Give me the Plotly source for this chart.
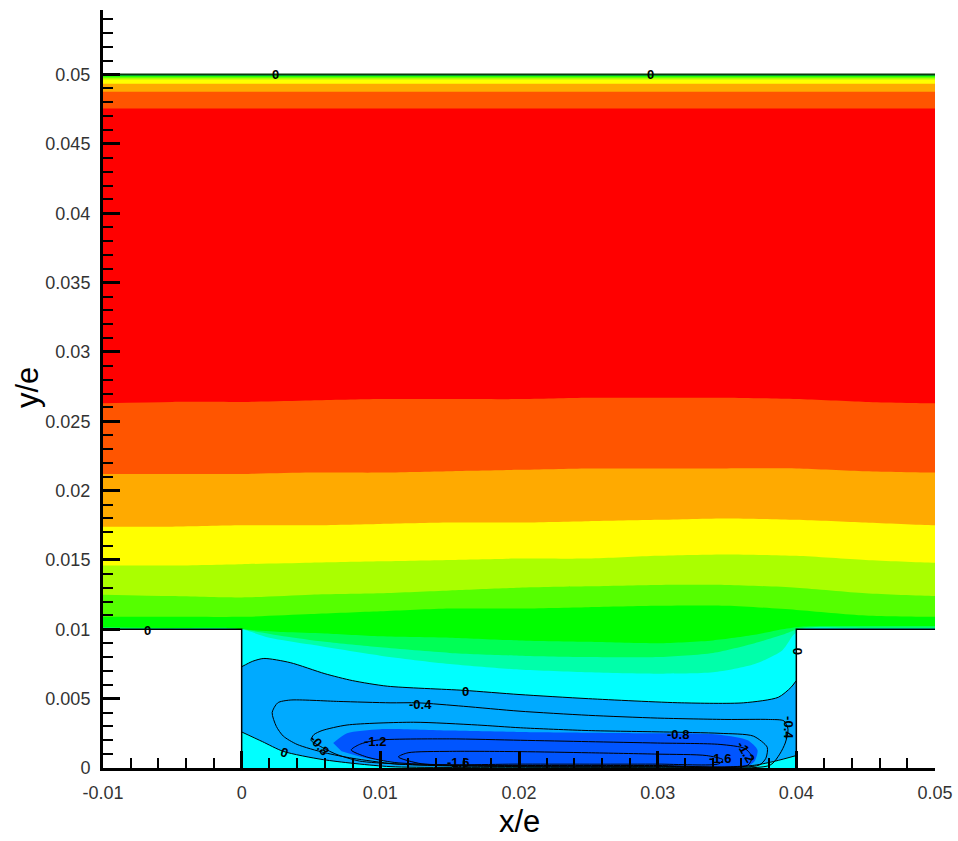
import plotly.graph_objects as go

# ---------------- axes / ticks ----------------
X_RANGE = [-0.01, 0.05]
Y_RANGE = [0.0, 0.05466]
X_TICKS = [-0.01, 0.0, 0.01, 0.02, 0.03, 0.04, 0.05]
X_TICK_TEXT = ["-0.01", "0", "0.01", "0.02", "0.03", "0.04", "0.05"]
Y_TICKS = [0.0, 0.005, 0.01, 0.015, 0.02, 0.025, 0.03, 0.035, 0.04, 0.045, 0.05]
Y_TICK_TEXT = ["0", "0.005", "0.01", "0.015", "0.02", "0.025", "0.03", "0.035", "0.04", "0.045", "0.05"]

# ---------------- geometry (x/e, y/e) ----------------
CHANNEL_X = [-0.01, 0.05]
CHANNEL_WALL_LOW = 0.01
CHANNEL_WALL_TOP = 0.05
CAVITY_X = [0.0, 0.04]
CAVITY_FLOOR = 0.0

# ---------------- flood bands (value below each level) ----------------
LEVELS = [9, 8, 7, 6, 5, 4, 3, 2, 1]
COLOR_ABOVE_TOP = "#ff0000"
BAND_COLORS = ["#ff5500", "#ffaa00", "#ffff00", "#aaff00", "#55ff00",
               "#00ff00", "#00ff55", "#00ffaa", "#00ffff"]
COLOR_BELOW_0 = "#00aaff"
COLOR_BELOW_M1 = "#0055ff"

# lower boundary-layer level crossings
XB = [-0.01, -0.005, 0.0, 0.005, 0.01, 0.015, 0.02, 0.025, 0.03, 0.035, 0.04, 0.045, 0.05]
L9_Y = [0.0263, 0.0264, 0.0264, 0.0265, 0.0266, 0.0266, 0.0266, 0.0267, 0.0267, 0.0267, 0.0266, 0.0264, 0.0263]
L8_Y = [0.0212, 0.0212, 0.0212, 0.0213, 0.0213, 0.0214, 0.0215, 0.0216, 0.0216, 0.0216, 0.0216, 0.0214, 0.0213]
L7_Y = [0.0174, 0.0174, 0.0175, 0.0175, 0.0176, 0.0177, 0.0177, 0.0178, 0.0179, 0.0180, 0.0179, 0.0177, 0.0175]
L6_Y = [0.0146, 0.0146, 0.0147, 0.0148, 0.0149, 0.0150, 0.0151, 0.0151, 0.0153, 0.0154, 0.0153, 0.0150, 0.0148]
L5_Y = [0.0125, 0.0124, 0.0123, 0.0125, 0.0126, 0.0128, 0.0130, 0.0131, 0.0132, 0.0132, 0.0130, 0.0126, 0.0124]
L4_Y = [0.0109, 0.0109, 0.0109, 0.0111, 0.0113, 0.0115, 0.0115, 0.0116, 0.0117, 0.0117, 0.0114, 0.0110, 0.0109]

L3_X = [-0.01, -0.005, -0.001, 0.0, 0.003, 0.006, 0.01, 0.015, 0.02, 0.025, 0.03, 0.034, 0.037, 0.039, 0.0405, 0.045, 0.05]
L3_Y = [0.01017, 0.0101, 0.0101, 0.0100, 0.0098, 0.0097, 0.0095, 0.0094, 0.0092, 0.0091, 0.0090, 0.0092, 0.0096, 0.0100, 0.0102, 0.01024, 0.01024]
L2_X = [-0.01, -0.005, -0.001, 0.0, 0.003, 0.006, 0.01, 0.015, 0.02, 0.025, 0.03, 0.034, 0.037, 0.039, 0.0403, 0.045, 0.05]
L2_Y = [0.01008, 0.01008, 0.01007, 0.0100, 0.0095, 0.0091, 0.0087, 0.0083, 0.0081, 0.0080, 0.0080, 0.0083, 0.0090, 0.0096, 0.01008, 0.01012, 0.01012]
L1_X = [-0.01, -0.005, -0.001, 0.0, 0.002, 0.005, 0.01, 0.015, 0.02, 0.025, 0.03, 0.034, 0.037, 0.039, 0.0398, 0.0405, 0.045, 0.05]
L1_Y = [0.01003, 0.01003, 0.01003, 0.0100, 0.0094, 0.0089, 0.0081, 0.0075, 0.0071, 0.0069, 0.0068, 0.0069, 0.0075, 0.0085, 0.0096, 0.01004, 0.01006, 0.01006]

# upper-wall boundary layer level crossings (uniform in x)
TOP_LEVEL_Y = [0.04755, 0.04877, 0.04935, 0.04964, 0.04978, 0.04986, 0.04992, 0.04996, 0.04999]

# ---------------- cavity recirculation ----------------
ZERO_TOP_X = [0.0, 0.0008, 0.0016, 0.0035, 0.006, 0.008, 0.0105, 0.016, 0.02, 0.025, 0.0317, 0.0362, 0.0387, 0.0396, 0.04]
ZERO_TOP_Y = [0.0073, 0.0077, 0.0079, 0.0076, 0.0068, 0.0063, 0.0059, 0.0056, 0.0053, 0.0050, 0.0047, 0.0047, 0.0051, 0.0058, 0.0063]
ZERO_BOT_X = [0.04, 0.0385, 0.037, 0.035, 0.03, 0.02, 0.0107, 0.0059, 0.003, 0.0015, 0.0]
ZERO_BOT_Y = [0.0009, 0.0005, 0.0002, 0.00008, 0.00005, 0.00005, 0.0001, 0.0006, 0.0012, 0.0019, 0.0026]

MB_X = [0.0066, 0.0076, 0.010, 0.015, 0.020, 0.025, 0.030, 0.0345, 0.0365, 0.0372, 0.0370, 0.0364, 0.030, 0.020, 0.012, 0.009, 0.0072]
MB_Y = [0.0018, 0.0025, 0.0028, 0.0027, 0.0026, 0.00255, 0.0025, 0.0024, 0.0020, 0.0013, 0.0005, 0.0001, 0.0001, 0.0001, 0.0003, 0.0007, 0.0012]

M04_X = [0.0025, 0.0022, 0.0026, 0.0035, 0.007, 0.0107, 0.0127, 0.016, 0.020, 0.025, 0.030, 0.035, 0.038, 0.0391, 0.0394, 0.0392, 0.0388, 0.0381, 0.030, 0.015, 0.011, 0.008, 0.006, 0.004, 0.003, 0.0025]
M04_Y = [0.0030, 0.0040, 0.0047, 0.0049, 0.0048, 0.0047, 0.0047, 0.00445, 0.0041, 0.0038, 0.0036, 0.0035, 0.0035, 0.0034, 0.0028, 0.0018, 0.0010, 0.0002, 0.00008, 0.00015, 0.0003, 0.0007, 0.0011, 0.0017, 0.0023, 0.0030]
M08_X = [0.0050, 0.0052, 0.0058, 0.0076, 0.0124, 0.017, 0.0201, 0.025, 0.0304, 0.0345, 0.0369, 0.0379, 0.0378, 0.0373, 0.030, 0.015, 0.011, 0.0085, 0.0068, 0.0056, 0.0050]
M08_Y = [0.0020, 0.0024, 0.0027, 0.0031, 0.0033, 0.0031, 0.0029, 0.0027, 0.0026, 0.0025, 0.0023, 0.0015, 0.0007, 0.0002, 0.00012, 0.00018, 0.0003, 0.0005, 0.0010, 0.0016, 0.0020]
M12_X = [0.0079, 0.0085, 0.0097, 0.015, 0.0201, 0.025, 0.030, 0.0345, 0.0363, 0.0368, 0.0365, 0.030, 0.015, 0.011, 0.009, 0.0079]
M12_Y = [0.0013, 0.0017, 0.0020, 0.0021, 0.0020, 0.0019, 0.0018, 0.0017, 0.0014, 0.0008, 0.0002, 0.00018, 0.00022, 0.0004, 0.0008, 0.0013]
M16_X = [0.0113, 0.012, 0.015, 0.0201, 0.025, 0.030, 0.0335, 0.0347, 0.0344, 0.030, 0.020, 0.013, 0.0113]
M16_Y = [0.0008, 0.0011, 0.0012, 0.00118, 0.0011, 0.0010, 0.0009, 0.0006, 0.0003, 0.00028, 0.00028, 0.0003, 0.0008]

# contour labels: text, x, y, angle
LABEL_TEXT = ["0", "0", "0", "0", "0", "-0.4", "-0.8", "0", "-1.2", "-1.6", "-0.8", "-1.6", "-1.2", "-0.4"]
LABEL_X = [0.00245, 0.0295, -0.00678, 0.0401, 0.01615, 0.0129, 0.00555, 0.0031, 0.0096, 0.0156, 0.03144, 0.0345, 0.03635, 0.03945]
LABEL_Y = [0.04998, 0.04998, 0.00995, 0.0084, 0.00555, 0.0046, 0.00166, 0.00115, 0.0019, 0.0004, 0.0024, 0.0007, 0.0012, 0.0029]
LABEL_ANGLE = [0, 0, 0, 90, 0, 0, 50, 20, 0, 0, 0, 0, 60, 90]

# ---------------- build figure ----------------
fig = go.Figure()
EXT = 0.003


def filled(xs, ys, color, shape="spline"):
    fig.add_trace(go.Scatter(x=xs, y=ys, mode="lines", fill="toself", fillcolor=color,
                             line=dict(width=0, shape=shape, smoothing=0.7, color=color),
                             hoverinfo="skip", showlegend=False))


def below(xs, ys, color):
    px = list(xs) + [xs[-1] + EXT, xs[-1] + EXT, xs[0] - EXT, xs[0] - EXT]
    py = list(ys) + [ys[-1], CAVITY_FLOOR - EXT, CAVITY_FLOOR - EXT, ys[0]]
    filled(px, py, color)


def above(y, color):
    x0, x1 = CHANNEL_X
    filled([x0 - EXT, x1 + EXT, x1 + EXT, x0 - EXT], [y, y, CHANNEL_WALL_TOP, CHANNEL_WALL_TOP], color, "linear")


def line(xs, ys, width=1.0, color="black", shape="spline"):
    fig.add_trace(go.Scatter(x=xs, y=ys, mode="lines",
                             line=dict(width=width, color=color, shape=shape, smoothing=0.7),
                             hoverinfo="skip", showlegend=False))


# whole domain in top colour
x0, x1 = CHANNEL_X
filled([x0 - EXT, x1 + EXT, x1 + EXT, x0 - EXT],
       [CAVITY_FLOOR - EXT, CAVITY_FLOOR - EXT, CHANNEL_WALL_TOP, CHANNEL_WALL_TOP], COLOR_ABOVE_TOP, "linear")

bottom_curves = [(XB, L9_Y), (XB, L8_Y), (XB, L7_Y), (XB, L6_Y), (XB, L5_Y), (XB, L4_Y),
                 (L3_X, L3_Y), (L2_X, L2_Y), (L1_X, L1_Y)]
for (bx, by), ty, col in zip(bottom_curves, TOP_LEVEL_Y, BAND_COLORS):
    below(bx, by, col)
    above(ty, col)

# recirculation (value < 0)
lb_x = [CAVITY_X[0] - 0.001] + ZERO_TOP_X + [CAVITY_X[1] + 0.001, CAVITY_X[1] + 0.001] + ZERO_BOT_X + [CAVITY_X[0] - 0.001]
lb_y = [ZERO_TOP_Y[0]] + ZERO_TOP_Y + [ZERO_TOP_Y[-1], ZERO_BOT_Y[0]] + ZERO_BOT_Y + [ZERO_BOT_Y[-1]]
filled(lb_x, lb_y, COLOR_BELOW_0)
filled(MB_X, MB_Y, COLOR_BELOW_M1)

# solid steps (white)
filled([x0 - EXT, CAVITY_X[0], CAVITY_X[0], x0 - EXT],
       [CAVITY_FLOOR - EXT, CAVITY_FLOOR - EXT, CHANNEL_WALL_LOW, CHANNEL_WALL_LOW], "white", "linear")
filled([CAVITY_X[1], x1 + EXT, x1 + EXT, CAVITY_X[1]],
       [CAVITY_FLOOR - EXT, CAVITY_FLOOR - EXT, CHANNEL_WALL_LOW, CHANNEL_WALL_LOW], "white", "linear")

# walls
line([x0, CAVITY_X[0], CAVITY_X[0]], [CHANNEL_WALL_LOW, CHANNEL_WALL_LOW, CAVITY_FLOOR], 1.5, shape="linear")
line([CAVITY_X[1], CAVITY_X[1], x1], [CAVITY_FLOOR, CHANNEL_WALL_LOW, CHANNEL_WALL_LOW], 1.5, shape="linear")
line([x0, x1], [CHANNEL_WALL_TOP, CHANNEL_WALL_TOP], 2.0, color="#0b3a0b", shape="linear")

# contour lines in cavity
line(ZERO_TOP_X, ZERO_TOP_Y)
line(ZERO_BOT_X, ZERO_BOT_Y)
for cx, cy in [(M04_X, M04_Y), (M08_X, M08_Y), (M12_X, M12_Y), (M16_X, M16_Y)]:
    line(cx, cy)

for t, lx, ly, ang in zip(LABEL_TEXT, LABEL_X, LABEL_Y, LABEL_ANGLE):
    fig.add_annotation(x=lx, y=ly, xref="x", yref="y", text="<b>%s</b>" % t, showarrow=False,
                       textangle=ang, font=dict(family="Liberation Sans, Arial", size=13, color="black"))

# axis titles
fig.add_annotation(x=0.5006, y=-0.071, xref="paper", yref="paper", text="x/e", showarrow=False,
                   font=dict(family="Liberation Sans, Arial", size=31, color="black"),
                   xanchor="center", yanchor="middle")
fig.add_annotation(x=-0.0913, y=0.5013, xref="paper", yref="paper", text="y/e", showarrow=False,
                   textangle=-90, font=dict(family="Liberation Sans, Arial", size=31, color="black"),
                   xanchor="center", yanchor="middle")

tickfont = dict(family="Liberation Sans, Arial", size=18, color="#333333")
fig.update_layout(
    width=958, height=841,
    margin=dict(l=103, r=23, t=10, b=73, autoexpand=False),
    paper_bgcolor="white", plot_bgcolor="white",
    showlegend=False,
    xaxis=dict(range=X_RANGE, tickmode="array", tickvals=X_TICKS, ticktext=X_TICK_TEXT,
               ticks="inside", ticklen=17, tickwidth=3, tickcolor="black",
               showline=True, linewidth=3, linecolor="black", showgrid=False, zeroline=False,
               tickfont=tickfont, ticklabelstandoff=6,
               minor=dict(ticks="inside", ticklen=10, tickwidth=2, tickcolor="black",
                          tickmode="linear", tick0=0, dtick=0.002, showgrid=False)),
    yaxis=dict(range=Y_RANGE, tickmode="array", tickvals=Y_TICKS, ticktext=Y_TICK_TEXT,
               ticks="inside", ticklen=17, tickwidth=3, tickcolor="black",
               showline=True, linewidth=3, linecolor="black", showgrid=False, zeroline=False,
               tickfont=tickfont, ticklabelstandoff=6,
               minor=dict(ticks="inside", ticklen=10, tickwidth=2, tickcolor="black",
                          tickmode="linear", tick0=0, dtick=0.001, showgrid=False)),
)

# remove the browser's default 8px page margin so the figure sits at the window's corner
fig.write_html("out.html", config={"displayModeBar": False},
               post_script="document.body.style.margin='0';document.body.style.overflow='hidden';")
